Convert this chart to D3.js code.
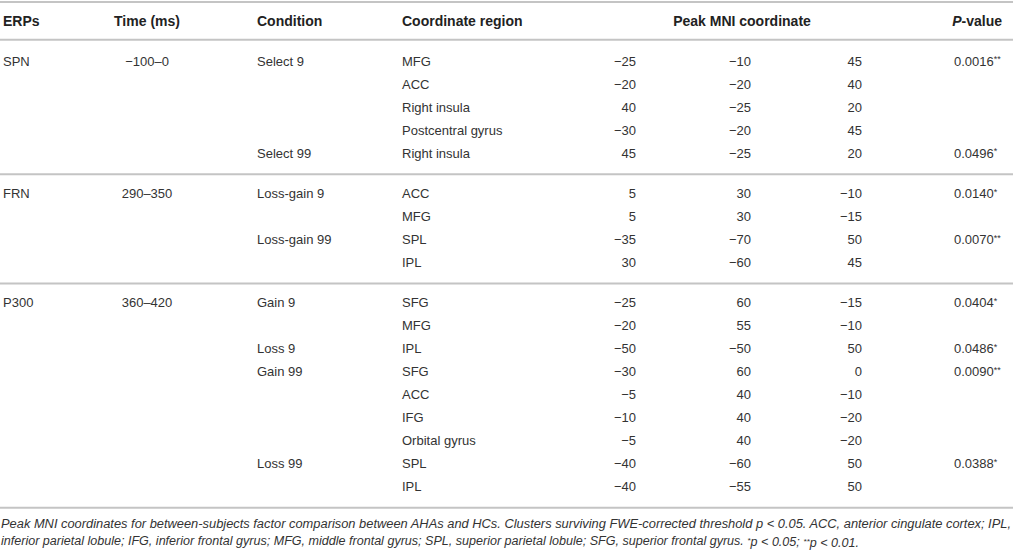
<!DOCTYPE html>
<meta charset="utf-8">
<html lang="en">
<head>
    <title>Peak MNI coordinates</title>
    <script type="text/javascript" src="https://d3js.org/d3.v7.min.js"></script>
</head>
<style>
    body { margin: 0; background: #fff; }
    text { font-family: "Liberation Sans", Arial, sans-serif; font-size: 13px; fill: #333; }
    .header { font-weight: bold; font-size: 14px; fill: #222; }
    .note { font-size: 12px; font-style: italic; fill: #333; }
    line.rule { stroke: #c4c4c4; stroke-width: 2px; }
</style>
<body>
<script>
    // table content, one entry per row
    var erps = ["SPN", "FRN", "P300"];
    var times = ["\u2212100\u20130", "290\u2013350", "360\u2013420"];
    var groupSizes = [5, 4, 9];
    var conditions = ["Select 9", "", "", "", "Select 99",
        "Loss-gain 9", "", "Loss-gain 99", "",
        "Gain 9", "", "Loss 9", "Gain 99", "", "", "", "Loss 99", ""];
    var regions = ["MFG", "ACC", "Right insula", "Postcentral gyrus", "Right insula",
        "ACC", "MFG", "SPL", "IPL",
        "SFG", "MFG", "IPL", "SFG", "ACC", "IFG", "Orbital gyrus", "SPL", "IPL"];
    var coordX = [-25, -20, 40, -30, 45, 5, 5, -35, 30, -25, -20, -50, -30, -5, -10, -5, -40, -40];
    var coordY = [-10, -20, -25, -20, -25, 30, 30, -70, -60, 60, 55, -50, 60, 40, 40, 40, -60, -55];
    var coordZ = [45, 40, 20, 45, 20, -10, -15, 50, 45, -15, -10, 50, 0, -10, -20, -20, 50, 50];
    var pValues = ["0.0016", "", "", "", "0.0496", "0.0140", "", "0.0070", "",
        "0.0404", "", "0.0486", "0.0090", "", "", "", "0.0388", ""];
    var pStars = ["**", "", "", "", "*", "*", "", "**", "",
        "*", "", "*", "**", "", "", "", "*", ""];
    var noteLines = [
        "Peak MNI coordinates for between-subjects factor comparison between AHAs and HCs. Clusters surviving FWE-corrected threshold p < 0.05. ACC, anterior cingulate cortex; IPL,",
        "inferior parietal lobule; IFG, inferior frontal gyrus; MFG, middle frontal gyrus; SPL, superior parietal lobule; SFG, superior frontal gyrus. |*|p < 0.05; |**|p < 0.01."
    ];

    var W = 1016, H = 551;
    var svg = d3.select("body").append("svg").attr("width", W).attr("height", H);

    // group index and slot of each row (extra space between groups)
    var rows = [];
    var start = 0;
    groupSizes.forEach(function (n, g) {
        for (var k = 0; k < n; k++) rows.push({i: start + k, g: g, first: k === 0, slot: start + k + g * 0.75});
        start += n;
    });
    var lastSlot = d3.max(rows, d => d.slot);
    var y = d3.scaleLinear().domain([0, lastSlot]).range([61, 486.5]);
    var step = y(1) - y(0);

    var fmt = v => (v < 0 ? "\u2212" + Math.abs(v) : String(v));

    // rules
    var ruleYs = [2, y(0) - 0.92 * step];
    groupSizes.forEach(function (n, g) {
        var lastRow = rows.filter(r => r.g === g).pop();
        ruleYs.push(y(lastRow.slot) + 0.92 * step);
    });
    svg.selectAll("line.rule").data(ruleYs).enter().append("line")
        .attr("class", "rule")
        .attr("x1", 0).attr("x2", 1013)
        .attr("y1", d => d).attr("y2", d => d);

    // header
    var hy = 21;
    var headers = [
        {t: "ERPs", x: 3, a: "start"},
        {t: "Time (ms)", x: 147, a: "middle"},
        {t: "Condition", x: 257, a: "start"},
        {t: "Coordinate region", x: 402, a: "start"},
        {t: "Peak MNI coordinate", x: 742, a: "middle"}
    ];
    svg.selectAll("text.header").data(headers).enter().append("text")
        .attr("class", "header")
        .attr("x", d => d.x).attr("y", hy).attr("dy", "0.35em")
        .attr("text-anchor", d => d.a)
        .text(d => d.t);
    var ph = svg.append("text").attr("class", "header")
        .attr("x", 1002).attr("y", hy).attr("dy", "0.35em").attr("text-anchor", "end");
    ph.append("tspan").style("font-style", "italic").text("P");
    ph.append("tspan").text("-value");

    // body
    var firsts = rows.filter(r => r.first);
    svg.selectAll("text.erp").data(firsts).enter().append("text")
        .attr("class", "erp").attr("x", 3).attr("y", d => y(d.slot)).attr("dy", "0.35em")
        .text(d => erps[d.g]);
    svg.selectAll("text.time").data(firsts).enter().append("text")
        .attr("class", "time").attr("x", 147).attr("y", d => y(d.slot)).attr("dy", "0.35em")
        .attr("text-anchor", "middle")
        .text(d => times[d.g]);

    var cols = [
        {cls: "cond", x: 257, a: "start", f: d => conditions[d.i]},
        {cls: "region", x: 402, a: "start", f: d => regions[d.i]},
        {cls: "cx", x: 636, a: "end", f: d => fmt(coordX[d.i])},
        {cls: "cy", x: 751, a: "end", f: d => fmt(coordY[d.i])},
        {cls: "cz", x: 862, a: "end", f: d => fmt(coordZ[d.i])}
    ];
    cols.forEach(function (c) {
        svg.selectAll("text." + c.cls).data(rows).enter().append("text")
            .attr("class", c.cls).attr("x", c.x).attr("y", d => y(d.slot)).attr("dy", "0.35em")
            .attr("text-anchor", c.a)
            .text(c.f);
    });

    var pv = svg.selectAll("text.pv").data(rows.filter(d => pValues[d.i])).enter().append("text")
        .attr("class", "pv").attr("x", 954).attr("y", d => y(d.slot)).attr("dy", "0.35em");
    pv.append("tspan").text(d => pValues[d.i]);
    pv.append("tspan").attr("dy", "-0.35em").style("font-size", "9px").text(d => pStars[d.i]);

    // footnote
    var noteY = [528, 545];
    var noteW = [1010, 858];
    noteLines.forEach(function (line, k) {
        var t = svg.append("text").attr("class", "note")
            .attr("x", 1).attr("y", noteY[k])
            .attr("textLength", noteW[k]).attr("lengthAdjust", "spacingAndGlyphs");
        line.split("|").forEach(function (part, j) {
            var sp = t.append("tspan").text(part);
            if (j % 2 === 1) sp.attr("dy", "-0.3em").style("font-size", "8px");
            else if (j > 0) sp.attr("dy", "0.3em");
        });
    });
</script>
</body>
</html>
